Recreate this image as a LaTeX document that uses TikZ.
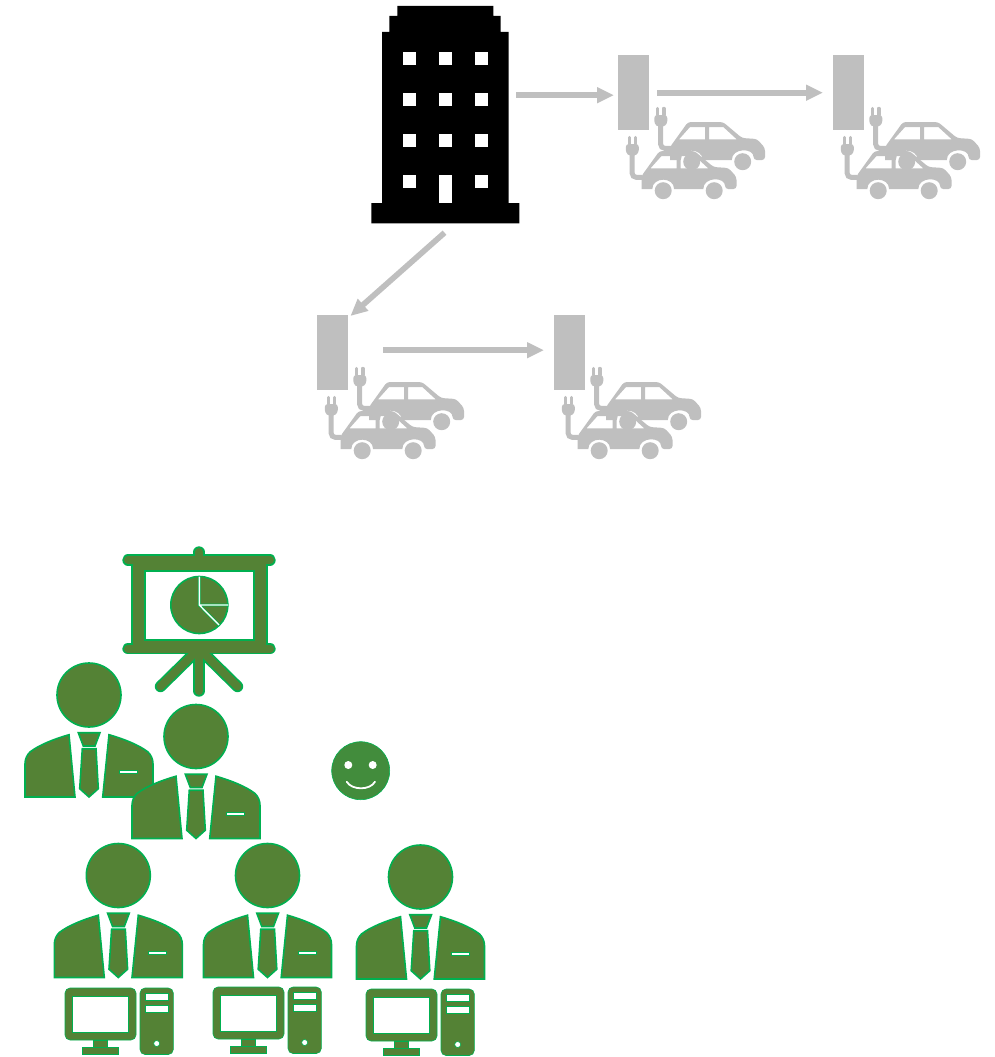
\documentclass[tikz,border=0pt]{standalone}
\usetikzlibrary{arrows.meta}
\definecolor{ChargeGrey}{RGB}{191,191,191}
\definecolor{SuitGreen}{RGB}{84,130,53}
\definecolor{EdgeGreen}{RGB}{0,176,80}
\definecolor{SmileGreen}{RGB}{66,140,60}

\tikzset{
  flowarrow/.style={draw=ChargeGrey, line width=5.7pt, -{Triangle[length=17pt,width=15pt]}},
  chargepost/.style={fill=ChargeGrey, inner sep=0pt, minimum width=31pt, minimum height=75pt, anchor=north west},
  suit/.style={fill=SuitGreen, draw=EdgeGreen, line width=1.6pt},
  pc/.style={fill=SuitGreen, draw=EdgeGreen, line width=0.6pt},
}

% one car with its plug, origin = lower left corner of the body
\newcommand{\carplug}[2]{
  \begin{scope}[shift={(#1,#2)}]
  \fill[ChargeGrey,even odd rule]
    [rounded corners=3pt] (0,0) -- (0,-13) -- (18,-38) -- (53,-38) -- (72,-22) -- (87,-21) -- (95,-12) -- (95,0) -- (83.6,0)
    [sharp corners] .. controls (83.6,-12.4) and (61.8,-12.4) .. (61.8,0) -- (32.6,0)
    .. controls (32.6,-12.4) and (10.8,-12.4) .. (10.8,0) -- cycle
    (9,-20.7) -- (20,-33) -- (35,-33) -- (35,-20.7) -- cycle % windows
    (39,-33) -- (53.3,-33) -- (66.7,-20.7) -- (39,-20.7) -- cycle;
  \fill[ChargeGrey] (21.7,1.7) circle (8.5pt) (72.7,1.7) circle (8.5pt); % wheels
  \draw[ChargeGrey,line width=5pt,rounded corners=4pt] (-9.3,-36) -- (-9.3,-11.7) -- (1,-11.7); % cable
  \fill[ChargeGrey,rounded corners=3pt] (-15.7,-45) -- (-2.7,-45) -- (-2.7,-36) -- (-7,-33) -- (-11.6,-33) -- (-15.7,-36) -- cycle; % plug
  \draw[ChargeGrey,line width=3.4pt,line cap=round] (-12.3,-45) -- (-12.3,-51.5) (-6.2,-45) -- (-6.2,-51.5);
  \end{scope}
}

% person, origin = bottom of the tie
\newcommand{\person}[2]{
  \begin{scope}[shift={(#1,#2)}]
  \filldraw[suit] (0,-102) circle (32pt); % head
  \filldraw[suit] (-64,0) -- (-14,0) -- (-20,-62.3) .. controls (-35,-58) and (-50,-52) .. (-59,-45) .. controls (-62,-42) and (-64,-38) .. (-64,-33) -- cycle;
  \filldraw[suit] (64,0) -- (13.7,0) -- (20,-62.3) .. controls (35,-58) and (50,-52) .. (59,-45) .. controls (62,-42) and (64,-38) .. (64,-33) -- cycle;
  \filldraw[suit] (-10.7,-64.3) -- (11,-64.3) -- (6,-51) -- (-5.7,-51) -- cycle; % knot
  \filldraw[suit] (-6.7,-48.3) -- (7,-48.3) -- (9.3,-8.3) -- (0,0) -- (-9.3,-8.3) -- cycle; % tie
  \filldraw[draw=EdgeGreen,fill=white,line width=0.8pt] (30.5,-26.6) rectangle (48.5,-23.4); % pocket
  \end{scope}
}

% monitor and tower, origin = upper left corner of the monitor
\newcommand{\computer}[2]{
  \begin{scope}[shift={(#1,#2)}]
  \filldraw[pc,rounded corners=5pt] (0,0) rectangle (71,52);
  \filldraw[pc] (28.3,52) rectangle (42.3,59);
  \filldraw[pc] (17.3,59) rectangle (53.3,66.5);
  \filldraw[pc,rounded corners=5pt] (75,0) rectangle (108.3,66.5);
  \filldraw[pc,fill=white] (7.7,8) rectangle (63.3,44); % screen
  \filldraw[pc,fill=white] (80.7,5.5) rectangle (103.3,12.2); % slots
  \filldraw[pc,fill=white] (80.7,17.2) rectangle (103.3,24);
  \filldraw[pc,fill=white] (91.7,55.5) circle (3pt);
  \end{scope}
}

% strokes of the board, edge colour first and fill colour afterwards
\newcommand{\boardlines}[2]{
  \draw[#2,line width=#1pt,line cap=round] (199,552) -- (199,560);
  \draw[#2,line width=#1pt,line cap=round] (128,560) -- (270,560);
  \draw[#2,line width=#1pt,line cap=round] (128,648.7) -- (270,648.7);
  \draw[#2,line width=#1pt,line cap=round] (199,648.7) -- (199,691);
  \draw[#2,line width=#1pt,line cap=round] (199,648.7) -- (160.5,686.5);
  \draw[#2,line width=#1pt,line cap=round] (199,648.7) -- (237.5,686.5);
}

\begin{document}
\begin{tikzpicture}[x=1pt, y=-1pt]
\useasboundingbox (0,0) rectangle (994,1057);

% tower
\node[inner sep=0pt, minimum width=126.7pt, minimum height=217.3pt, anchor=north west] (tower) at (382,6) {};
\fill[black] (397.3,6) -- (493.3,6) -- (493.3,16) -- (500.7,16) -- (500.7,32) -- (508.7,32) -- (508.7,203) -- (519.3,203) -- (519.3,223.3)
  -- (371.3,223.3) -- (371.3,203) -- (382,203) -- (382,32) -- (389.3,32) -- (389.3,16) -- (397.3,16) -- cycle;
\foreach \xw in {402.5,438.7,475} {
  \foreach \yw in {52.3,93.3,134.3} {
    \fill[white] (\xw,\yw) rectangle +(13,12.8);
  }
}
\fill[white] (402.5,175.3) rectangle +(13,12.8);
\fill[white] (475,175.3) rectangle +(13,12.8);
\fill[white] (438.7,175.3) rectangle (451.7,203); % door

% charging stations
\foreach \name/\xs/\ys in {postA/618/55, postB/833/55, postC/317/315, postD/554/315} {
  \node[chargepost] (\name) at (\xs,\ys) {};
  \carplug{\xs+52}{\ys+105}
  \carplug{\xs+23.5}{\ys+134}
}

% arrows
\draw[flowarrow] ([shift={(7,-19.65)}]tower.east) -- ([shift={(-4,2.5)}]postA.west);
\draw[flowarrow] ([shift={(8,0)}]postA.east) -- ([shift={(-10,0)}]postB.west);
\draw[flowarrow] ([shift={(-1,9)}]tower.south) -- ([shift={(2,1)}]postC.north east);
\draw[flowarrow] ([shift={(35,-2.5)}]postC.east) -- ([shift={(-10,-2.5)}]postD.west);

% presentation board
\boardlines{11.4}{EdgeGreen}
\filldraw[suit,line width=2.2pt,even odd rule] (131.7,560) rectangle (267.3,648.7) (145,570.7) rectangle (254,640);
\boardlines{8}{SuitGreen}
\filldraw[suit] (199.3,605) circle (28.5pt);
\draw[EdgeGreen,line width=2.8pt] (199.3,576.5) -- (199.3,605) -- (228,605) (199.3,605) -- (219,625);
\draw[white,line width=1.4pt] (199.3,576.5) -- (199.3,605) -- (228,605) (199.3,605) -- (219,625);

% audience
\person{89}{797}
\person{196}{838.5}
\person{118.3}{977.5}
\person{267.5}{977.5}
\person{420.5}{979}

\computer{65}{988}
\computer{213}{987}
\computer{366}{989}

% smile
\filldraw[fill=SmileGreen,draw=EdgeGreen,line width=0.6pt] (360.7,770.7) circle (29pt);
\fill[white] (348.3,765) circle (4pt) (372.7,765) circle (4pt);
\draw[white,line width=1.8pt,line cap=round] (346.7,781.7) .. controls (352,790.5) and (370,790.5) .. (375,781.7);

\end{tikzpicture}
\end{document}
